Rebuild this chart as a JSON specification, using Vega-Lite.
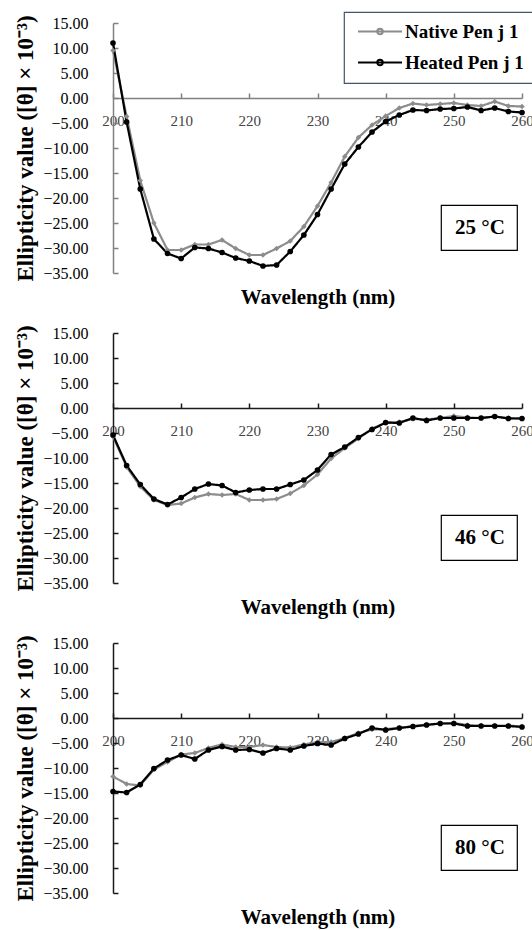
{
  "$schema": "https://vega.github.io/schema/vega-lite/v6.json",
  "background": "#ffffff",
  "padding": {"left": 13, "top": 11, "right": 0, "bottom": 5},
  "bounds": "flush",
  "spacing": 60,
  "datasets": {
    "cd": [
      {"temp":"25 °C","series":"Native Pen j 1","nm":200,"value":9.5},
      {"temp":"25 °C","series":"Native Pen j 1","nm":202,"value":-3.7},
      {"temp":"25 °C","series":"Native Pen j 1","nm":204,"value":-16.5},
      {"temp":"25 °C","series":"Native Pen j 1","nm":206,"value":-25.0},
      {"temp":"25 °C","series":"Native Pen j 1","nm":208,"value":-30.4},
      {"temp":"25 °C","series":"Native Pen j 1","nm":210,"value":-30.4},
      {"temp":"25 °C","series":"Native Pen j 1","nm":212,"value":-29.3},
      {"temp":"25 °C","series":"Native Pen j 1","nm":214,"value":-29.3},
      {"temp":"25 °C","series":"Native Pen j 1","nm":216,"value":-28.4},
      {"temp":"25 °C","series":"Native Pen j 1","nm":218,"value":-30.1},
      {"temp":"25 °C","series":"Native Pen j 1","nm":220,"value":-31.4},
      {"temp":"25 °C","series":"Native Pen j 1","nm":222,"value":-31.4},
      {"temp":"25 °C","series":"Native Pen j 1","nm":224,"value":-30.1},
      {"temp":"25 °C","series":"Native Pen j 1","nm":226,"value":-28.6},
      {"temp":"25 °C","series":"Native Pen j 1","nm":228,"value":-25.7},
      {"temp":"25 °C","series":"Native Pen j 1","nm":230,"value":-21.6},
      {"temp":"25 °C","series":"Native Pen j 1","nm":232,"value":-16.9},
      {"temp":"25 °C","series":"Native Pen j 1","nm":234,"value":-11.7},
      {"temp":"25 °C","series":"Native Pen j 1","nm":236,"value":-7.9},
      {"temp":"25 °C","series":"Native Pen j 1","nm":238,"value":-5.4},
      {"temp":"25 °C","series":"Native Pen j 1","nm":240,"value":-3.6},
      {"temp":"25 °C","series":"Native Pen j 1","nm":242,"value":-2.0},
      {"temp":"25 °C","series":"Native Pen j 1","nm":244,"value":-1.1},
      {"temp":"25 °C","series":"Native Pen j 1","nm":246,"value":-1.4},
      {"temp":"25 °C","series":"Native Pen j 1","nm":248,"value":-1.2},
      {"temp":"25 °C","series":"Native Pen j 1","nm":250,"value":-1.0},
      {"temp":"25 °C","series":"Native Pen j 1","nm":252,"value":-1.4},
      {"temp":"25 °C","series":"Native Pen j 1","nm":254,"value":-1.6},
      {"temp":"25 °C","series":"Native Pen j 1","nm":256,"value":-0.7},
      {"temp":"25 °C","series":"Native Pen j 1","nm":258,"value":-1.6},
      {"temp":"25 °C","series":"Native Pen j 1","nm":260,"value":-1.7},
      {"temp":"25 °C","series":"Heated Pen j 1","nm":200,"value":11.0},
      {"temp":"25 °C","series":"Heated Pen j 1","nm":202,"value":-4.8},
      {"temp":"25 °C","series":"Heated Pen j 1","nm":204,"value":-18.2},
      {"temp":"25 °C","series":"Heated Pen j 1","nm":206,"value":-28.2},
      {"temp":"25 °C","series":"Heated Pen j 1","nm":208,"value":-31.1},
      {"temp":"25 °C","series":"Heated Pen j 1","nm":210,"value":-32.1},
      {"temp":"25 °C","series":"Heated Pen j 1","nm":212,"value":-29.9},
      {"temp":"25 °C","series":"Heated Pen j 1","nm":214,"value":-30.1},
      {"temp":"25 °C","series":"Heated Pen j 1","nm":216,"value":-30.9},
      {"temp":"25 °C","series":"Heated Pen j 1","nm":218,"value":-32.0},
      {"temp":"25 °C","series":"Heated Pen j 1","nm":220,"value":-32.6},
      {"temp":"25 °C","series":"Heated Pen j 1","nm":222,"value":-33.6},
      {"temp":"25 °C","series":"Heated Pen j 1","nm":224,"value":-33.4},
      {"temp":"25 °C","series":"Heated Pen j 1","nm":226,"value":-30.7},
      {"temp":"25 °C","series":"Heated Pen j 1","nm":228,"value":-27.4},
      {"temp":"25 °C","series":"Heated Pen j 1","nm":230,"value":-23.3},
      {"temp":"25 °C","series":"Heated Pen j 1","nm":232,"value":-18.2},
      {"temp":"25 °C","series":"Heated Pen j 1","nm":234,"value":-13.2},
      {"temp":"25 °C","series":"Heated Pen j 1","nm":236,"value":-9.8},
      {"temp":"25 °C","series":"Heated Pen j 1","nm":238,"value":-6.8},
      {"temp":"25 °C","series":"Heated Pen j 1","nm":240,"value":-4.7},
      {"temp":"25 °C","series":"Heated Pen j 1","nm":242,"value":-3.4},
      {"temp":"25 °C","series":"Heated Pen j 1","nm":244,"value":-2.4},
      {"temp":"25 °C","series":"Heated Pen j 1","nm":246,"value":-2.5},
      {"temp":"25 °C","series":"Heated Pen j 1","nm":248,"value":-2.2},
      {"temp":"25 °C","series":"Heated Pen j 1","nm":250,"value":-2.1},
      {"temp":"25 °C","series":"Heated Pen j 1","nm":252,"value":-1.8},
      {"temp":"25 °C","series":"Heated Pen j 1","nm":254,"value":-2.5},
      {"temp":"25 °C","series":"Heated Pen j 1","nm":256,"value":-2.0},
      {"temp":"25 °C","series":"Heated Pen j 1","nm":258,"value":-2.7},
      {"temp":"25 °C","series":"Heated Pen j 1","nm":260,"value":-2.9},
      {"temp":"46 °C","series":"Native Pen j 1","nm":200,"value":-5.7},
      {"temp":"46 °C","series":"Native Pen j 1","nm":202,"value":-11.8},
      {"temp":"46 °C","series":"Native Pen j 1","nm":204,"value":-15.7},
      {"temp":"46 °C","series":"Native Pen j 1","nm":206,"value":-18.4},
      {"temp":"46 °C","series":"Native Pen j 1","nm":208,"value":-19.4},
      {"temp":"46 °C","series":"Native Pen j 1","nm":210,"value":-19.1},
      {"temp":"46 °C","series":"Native Pen j 1","nm":212,"value":-17.9},
      {"temp":"46 °C","series":"Native Pen j 1","nm":214,"value":-17.2},
      {"temp":"46 °C","series":"Native Pen j 1","nm":216,"value":-17.4},
      {"temp":"46 °C","series":"Native Pen j 1","nm":218,"value":-17.2},
      {"temp":"46 °C","series":"Native Pen j 1","nm":220,"value":-18.4},
      {"temp":"46 °C","series":"Native Pen j 1","nm":222,"value":-18.4},
      {"temp":"46 °C","series":"Native Pen j 1","nm":224,"value":-18.2},
      {"temp":"46 °C","series":"Native Pen j 1","nm":226,"value":-17.1},
      {"temp":"46 °C","series":"Native Pen j 1","nm":228,"value":-15.5},
      {"temp":"46 °C","series":"Native Pen j 1","nm":230,"value":-13.3},
      {"temp":"46 °C","series":"Native Pen j 1","nm":232,"value":-10.1},
      {"temp":"46 °C","series":"Native Pen j 1","nm":234,"value":-8.0},
      {"temp":"46 °C","series":"Native Pen j 1","nm":236,"value":-6.1},
      {"temp":"46 °C","series":"Native Pen j 1","nm":238,"value":-4.1},
      {"temp":"46 °C","series":"Native Pen j 1","nm":240,"value":-3.0},
      {"temp":"46 °C","series":"Native Pen j 1","nm":242,"value":-2.8},
      {"temp":"46 °C","series":"Native Pen j 1","nm":244,"value":-2.2},
      {"temp":"46 °C","series":"Native Pen j 1","nm":246,"value":-2.3},
      {"temp":"46 °C","series":"Native Pen j 1","nm":248,"value":-2.0},
      {"temp":"46 °C","series":"Native Pen j 1","nm":250,"value":-1.6},
      {"temp":"46 °C","series":"Native Pen j 1","nm":252,"value":-1.9},
      {"temp":"46 °C","series":"Native Pen j 1","nm":254,"value":-2.0},
      {"temp":"46 °C","series":"Native Pen j 1","nm":256,"value":-1.7},
      {"temp":"46 °C","series":"Native Pen j 1","nm":258,"value":-2.0},
      {"temp":"46 °C","series":"Native Pen j 1","nm":260,"value":-2.1},
      {"temp":"46 °C","series":"Heated Pen j 1","nm":200,"value":-5.4},
      {"temp":"46 °C","series":"Heated Pen j 1","nm":202,"value":-11.5},
      {"temp":"46 °C","series":"Heated Pen j 1","nm":204,"value":-15.3},
      {"temp":"46 °C","series":"Heated Pen j 1","nm":206,"value":-18.2},
      {"temp":"46 °C","series":"Heated Pen j 1","nm":208,"value":-19.3},
      {"temp":"46 °C","series":"Heated Pen j 1","nm":210,"value":-17.9},
      {"temp":"46 °C","series":"Heated Pen j 1","nm":212,"value":-16.2},
      {"temp":"46 °C","series":"Heated Pen j 1","nm":214,"value":-15.2},
      {"temp":"46 °C","series":"Heated Pen j 1","nm":216,"value":-15.5},
      {"temp":"46 °C","series":"Heated Pen j 1","nm":218,"value":-16.9},
      {"temp":"46 °C","series":"Heated Pen j 1","nm":220,"value":-16.4},
      {"temp":"46 °C","series":"Heated Pen j 1","nm":222,"value":-16.2},
      {"temp":"46 °C","series":"Heated Pen j 1","nm":224,"value":-16.2},
      {"temp":"46 °C","series":"Heated Pen j 1","nm":226,"value":-15.3},
      {"temp":"46 °C","series":"Heated Pen j 1","nm":228,"value":-14.4},
      {"temp":"46 °C","series":"Heated Pen j 1","nm":230,"value":-12.4},
      {"temp":"46 °C","series":"Heated Pen j 1","nm":232,"value":-9.3},
      {"temp":"46 °C","series":"Heated Pen j 1","nm":234,"value":-7.8},
      {"temp":"46 °C","series":"Heated Pen j 1","nm":236,"value":-5.9},
      {"temp":"46 °C","series":"Heated Pen j 1","nm":238,"value":-4.3},
      {"temp":"46 °C","series":"Heated Pen j 1","nm":240,"value":-2.9},
      {"temp":"46 °C","series":"Heated Pen j 1","nm":242,"value":-3.0},
      {"temp":"46 °C","series":"Heated Pen j 1","nm":244,"value":-2.0},
      {"temp":"46 °C","series":"Heated Pen j 1","nm":246,"value":-2.5},
      {"temp":"46 °C","series":"Heated Pen j 1","nm":248,"value":-2.0},
      {"temp":"46 °C","series":"Heated Pen j 1","nm":250,"value":-2.0},
      {"temp":"46 °C","series":"Heated Pen j 1","nm":252,"value":-2.0},
      {"temp":"46 °C","series":"Heated Pen j 1","nm":254,"value":-2.0},
      {"temp":"46 °C","series":"Heated Pen j 1","nm":256,"value":-1.7},
      {"temp":"46 °C","series":"Heated Pen j 1","nm":258,"value":-2.1},
      {"temp":"46 °C","series":"Heated Pen j 1","nm":260,"value":-2.1},
      {"temp":"80 °C","series":"Native Pen j 1","nm":200,"value":-11.7},
      {"temp":"80 °C","series":"Native Pen j 1","nm":202,"value":-13.2},
      {"temp":"80 °C","series":"Native Pen j 1","nm":204,"value":-13.5},
      {"temp":"80 °C","series":"Native Pen j 1","nm":206,"value":-10.3},
      {"temp":"80 °C","series":"Native Pen j 1","nm":208,"value":-8.8},
      {"temp":"80 °C","series":"Native Pen j 1","nm":210,"value":-7.3},
      {"temp":"80 °C","series":"Native Pen j 1","nm":212,"value":-7.0},
      {"temp":"80 °C","series":"Native Pen j 1","nm":214,"value":-6.0},
      {"temp":"80 °C","series":"Native Pen j 1","nm":216,"value":-5.3},
      {"temp":"80 °C","series":"Native Pen j 1","nm":218,"value":-5.8},
      {"temp":"80 °C","series":"Native Pen j 1","nm":220,"value":-5.8},
      {"temp":"80 °C","series":"Native Pen j 1","nm":222,"value":-5.4},
      {"temp":"80 °C","series":"Native Pen j 1","nm":224,"value":-5.8},
      {"temp":"80 °C","series":"Native Pen j 1","nm":226,"value":-5.9},
      {"temp":"80 °C","series":"Native Pen j 1","nm":228,"value":-5.3},
      {"temp":"80 °C","series":"Native Pen j 1","nm":230,"value":-4.8},
      {"temp":"80 °C","series":"Native Pen j 1","nm":232,"value":-4.8},
      {"temp":"80 °C","series":"Native Pen j 1","nm":234,"value":-4.0},
      {"temp":"80 °C","series":"Native Pen j 1","nm":236,"value":-3.0},
      {"temp":"80 °C","series":"Native Pen j 1","nm":238,"value":-2.3},
      {"temp":"80 °C","series":"Native Pen j 1","nm":240,"value":-2.2},
      {"temp":"80 °C","series":"Native Pen j 1","nm":242,"value":-2.0},
      {"temp":"80 °C","series":"Native Pen j 1","nm":244,"value":-1.6},
      {"temp":"80 °C","series":"Native Pen j 1","nm":246,"value":-1.3},
      {"temp":"80 °C","series":"Native Pen j 1","nm":248,"value":-1.1},
      {"temp":"80 °C","series":"Native Pen j 1","nm":250,"value":-1.0},
      {"temp":"80 °C","series":"Native Pen j 1","nm":252,"value":-1.4},
      {"temp":"80 °C","series":"Native Pen j 1","nm":254,"value":-1.5},
      {"temp":"80 °C","series":"Native Pen j 1","nm":256,"value":-1.5},
      {"temp":"80 °C","series":"Native Pen j 1","nm":258,"value":-1.5},
      {"temp":"80 °C","series":"Native Pen j 1","nm":260,"value":-1.7},
      {"temp":"80 °C","series":"Heated Pen j 1","nm":200,"value":-14.7},
      {"temp":"80 °C","series":"Heated Pen j 1","nm":202,"value":-14.9},
      {"temp":"80 °C","series":"Heated Pen j 1","nm":204,"value":-13.3},
      {"temp":"80 °C","series":"Heated Pen j 1","nm":206,"value":-10.1},
      {"temp":"80 °C","series":"Heated Pen j 1","nm":208,"value":-8.4},
      {"temp":"80 °C","series":"Heated Pen j 1","nm":210,"value":-7.4},
      {"temp":"80 °C","series":"Heated Pen j 1","nm":212,"value":-8.2},
      {"temp":"80 °C","series":"Heated Pen j 1","nm":214,"value":-6.4},
      {"temp":"80 °C","series":"Heated Pen j 1","nm":216,"value":-5.7},
      {"temp":"80 °C","series":"Heated Pen j 1","nm":218,"value":-6.4},
      {"temp":"80 °C","series":"Heated Pen j 1","nm":220,"value":-6.3},
      {"temp":"80 °C","series":"Heated Pen j 1","nm":222,"value":-7.0},
      {"temp":"80 °C","series":"Heated Pen j 1","nm":224,"value":-6.1},
      {"temp":"80 °C","series":"Heated Pen j 1","nm":226,"value":-6.4},
      {"temp":"80 °C","series":"Heated Pen j 1","nm":228,"value":-5.6},
      {"temp":"80 °C","series":"Heated Pen j 1","nm":230,"value":-5.1},
      {"temp":"80 °C","series":"Heated Pen j 1","nm":232,"value":-5.4},
      {"temp":"80 °C","series":"Heated Pen j 1","nm":234,"value":-4.1},
      {"temp":"80 °C","series":"Heated Pen j 1","nm":236,"value":-3.2},
      {"temp":"80 °C","series":"Heated Pen j 1","nm":238,"value":-2.0},
      {"temp":"80 °C","series":"Heated Pen j 1","nm":240,"value":-2.4},
      {"temp":"80 °C","series":"Heated Pen j 1","nm":242,"value":-2.0},
      {"temp":"80 °C","series":"Heated Pen j 1","nm":244,"value":-1.7},
      {"temp":"80 °C","series":"Heated Pen j 1","nm":246,"value":-1.4},
      {"temp":"80 °C","series":"Heated Pen j 1","nm":248,"value":-1.1},
      {"temp":"80 °C","series":"Heated Pen j 1","nm":250,"value":-1.1},
      {"temp":"80 °C","series":"Heated Pen j 1","nm":252,"value":-1.6},
      {"temp":"80 °C","series":"Heated Pen j 1","nm":254,"value":-1.6},
      {"temp":"80 °C","series":"Heated Pen j 1","nm":256,"value":-1.6},
      {"temp":"80 °C","series":"Heated Pen j 1","nm":258,"value":-1.6},
      {"temp":"80 °C","series":"Heated Pen j 1","nm":260,"value":-1.8}
    ]
  },
  "data": {"name": "cd"},
  "resolve": {"scale": {"x": "independent", "y": "independent", "color": "independent", "strokeDash": "independent"}},
  "vconcat": [
    {
      "width": 409, "height": 250,
      "transform": [{"filter": "datum.temp === '25 °C'"}],
      "encoding": {
        "x": {"field": "nm", "type": "quantitative", "scale": {"domain": [200, 260], "nice": false, "zero": false},
          "axis": {"values": [200,210,220,230,240,250,260], "format": "d", "offset": -175, "tickSize": -5, "labelPadding": 20, "labelFontSize": 15, "domainColor": "#808080", "tickColor": "#808080", "labelColor": "#444444", "title": "Wavelength (nm)", "titleY": 188, "titleBaseline": "top"}},
        "y": {"field": "value", "type": "quantitative", "scale": {"domain": [-35, 15], "nice": false, "zero": false},
          "axis": {"values": [-35,-30,-25,-20,-15,-10,-5,0,5,10,15], "format": ".2f", "tickSize": -5, "labelPadding": 30, "domainColor": "#808080", "tickColor": "#808080", "title": "Ellipticity  value ([θ] × 10⁻³)", "titleX": -88, "titleY": 125, "titleAngle": 270, "titleBaseline": "middle", "titleAlign": "center"}}
      },
      "layer": [
        {"mark": {"type": "line", "strokeWidth": 2.2},
         "encoding": {
           "color": {"field": "series", "type": "nominal", "scale": {"domain": ["Native Pen j 1", "Heated Pen j 1"], "range": ["#8c8c8c", "#000000"]},
             "legend": {"title": null, "orient": "none", "legendX": 231, "legendY": -11, "direction": "vertical", "strokeColor": "#44546a", "fillColor": "#ffffff", "padding": 10, "rowPadding": 11, "symbolType": "M-1,0H7M3,-0.5A0.5,0.5 0 1,1 3,0.5A0.5,0.5 0 1,1 3,-0.5Z", "symbolSize": 121, "symbolStrokeWidth": 2, "labelFont": "Liberation Serif", "labelFontSize": 19, "labelFontWeight": "bold", "labelColor": "#000000", "labelOffset": 32, "labelLimit": 300}},
           "strokeDash": {"field": "temp", "type": "nominal", "legend": {"title": null, "orient": "none", "legendX": 328, "legendY": 182, "strokeColor": "#000000", "fillColor": "#ffffff", "padding": 12, "symbolType": "circle", "symbolOpacity": 0, "symbolSize": 1, "symbolStrokeWidth": 0, "labelOffset": -19, "labelFont": "Liberation Serif", "labelFontSize": 21, "labelFontWeight": "bold", "labelColor": "#000000"}}}},
        {"transform": [{"filter": "datum.series === 'Native Pen j 1'"}], "mark": {"type": "point", "shape": "diamond", "filled": true, "size": 30, "opacity": 1}, "encoding": {"color": {"value": "#8c8c8c"}}},
        {"transform": [{"filter": "datum.series === 'Heated Pen j 1'"}], "mark": {"type": "point", "shape": "circle", "filled": true, "size": 32, "opacity": 1}, "encoding": {"color": {"value": "#000000"}}}
      ]
    },
    {
      "width": 409, "height": 250,
      "transform": [{"filter": "datum.temp === '46 °C'"}],
      "encoding": {
        "x": {"field": "nm", "type": "quantitative", "scale": {"domain": [200, 260], "nice": false, "zero": false},
          "axis": {"values": [200,210,220,230,240,250,260], "format": "d", "offset": -175, "tickSize": -5, "labelPadding": 20, "labelFontSize": 15, "domainColor": "#1a1a1a", "tickColor": "#1a1a1a", "labelColor": "#444444", "title": "Wavelength (nm)", "titleY": 188, "titleBaseline": "top"}},
        "y": {"field": "value", "type": "quantitative", "scale": {"domain": [-35, 15], "nice": false, "zero": false},
          "axis": {"values": [-35,-30,-25,-20,-15,-10,-5,0,5,10,15], "format": ".2f", "tickSize": -5, "labelPadding": 30, "domainColor": "#1a1a1a", "tickColor": "#1a1a1a", "title": "Ellipticity  value ([θ] × 10⁻³)", "titleX": -88, "titleY": 125, "titleAngle": 270, "titleBaseline": "middle", "titleAlign": "center"}}
      },
      "layer": [
        {"mark": {"type": "line", "strokeWidth": 2.2},
         "encoding": {
           "color": {"field": "series", "type": "nominal", "scale": {"domain": ["Native Pen j 1", "Heated Pen j 1"], "range": ["#8c8c8c", "#000000"]}, "legend": null},
           "strokeDash": {"field": "temp", "type": "nominal", "legend": {"title": null, "orient": "none", "legendX": 328, "legendY": 182, "strokeColor": "#000000", "fillColor": "#ffffff", "padding": 12, "symbolType": "circle", "symbolOpacity": 0, "symbolSize": 1, "symbolStrokeWidth": 0, "labelOffset": -19, "labelFont": "Liberation Serif", "labelFontSize": 21, "labelFontWeight": "bold", "labelColor": "#000000"}}}},
        {"transform": [{"filter": "datum.series === 'Native Pen j 1'"}], "mark": {"type": "point", "shape": "diamond", "filled": true, "size": 30, "opacity": 1}, "encoding": {"color": {"value": "#8c8c8c"}}},
        {"transform": [{"filter": "datum.series === 'Heated Pen j 1'"}], "mark": {"type": "point", "shape": "circle", "filled": true, "size": 32, "opacity": 1}, "encoding": {"color": {"value": "#000000"}}}
      ]
    },
    {
      "width": 409, "height": 250,
      "transform": [{"filter": "datum.temp === '80 °C'"}],
      "encoding": {
        "x": {"field": "nm", "type": "quantitative", "scale": {"domain": [200, 260], "nice": false, "zero": false},
          "axis": {"values": [200,210,220,230,240,250,260], "format": "d", "offset": -175, "tickSize": -5, "labelPadding": 20, "labelFontSize": 15, "domainColor": "#1a1a1a", "tickColor": "#1a1a1a", "labelColor": "#444444", "title": "Wavelength (nm)", "titleY": 188, "titleBaseline": "top"}},
        "y": {"field": "value", "type": "quantitative", "scale": {"domain": [-35, 15], "nice": false, "zero": false},
          "axis": {"values": [-35,-30,-25,-20,-15,-10,-5,0,5,10,15], "format": ".2f", "tickSize": -5, "labelPadding": 30, "domainColor": "#1a1a1a", "tickColor": "#1a1a1a", "title": "Ellipticity  value ([θ] × 10⁻³)", "titleX": -88, "titleY": 125, "titleAngle": 270, "titleBaseline": "middle", "titleAlign": "center"}}
      },
      "layer": [
        {"mark": {"type": "line", "strokeWidth": 2.2},
         "encoding": {
           "color": {"field": "series", "type": "nominal", "scale": {"domain": ["Native Pen j 1", "Heated Pen j 1"], "range": ["#8c8c8c", "#000000"]}, "legend": null},
           "strokeDash": {"field": "temp", "type": "nominal", "legend": {"title": null, "orient": "none", "legendX": 328, "legendY": 182, "strokeColor": "#000000", "fillColor": "#ffffff", "padding": 12, "symbolType": "circle", "symbolOpacity": 0, "symbolSize": 1, "symbolStrokeWidth": 0, "labelOffset": -19, "labelFont": "Liberation Serif", "labelFontSize": 21, "labelFontWeight": "bold", "labelColor": "#000000"}}}},
        {"transform": [{"filter": "datum.series === 'Native Pen j 1'"}], "mark": {"type": "point", "shape": "diamond", "filled": true, "size": 30, "opacity": 1}, "encoding": {"color": {"value": "#8c8c8c"}}},
        {"transform": [{"filter": "datum.series === 'Heated Pen j 1'"}], "mark": {"type": "point", "shape": "circle", "filled": true, "size": 32, "opacity": 1}, "encoding": {"color": {"value": "#000000"}}}
      ]
    }
  ],
  "config": {
    "view": {"stroke": null},
    "axis": {"grid": false, "labelFont": "Liberation Serif", "labelFontSize": 16, "labelColor": "#000000", "titleFont": "Liberation Serif", "titleFontWeight": "bold", "titleFontSize": 23, "titleColor": "#000000", "domainWidth": 1.5, "tickWidth": 1.5, "labelFlush": false, "labelOverlap": false},
    "axisX": {"titleFontSize": 21},
    "legend": {"strokeWidth": 1.2}
  }
}
